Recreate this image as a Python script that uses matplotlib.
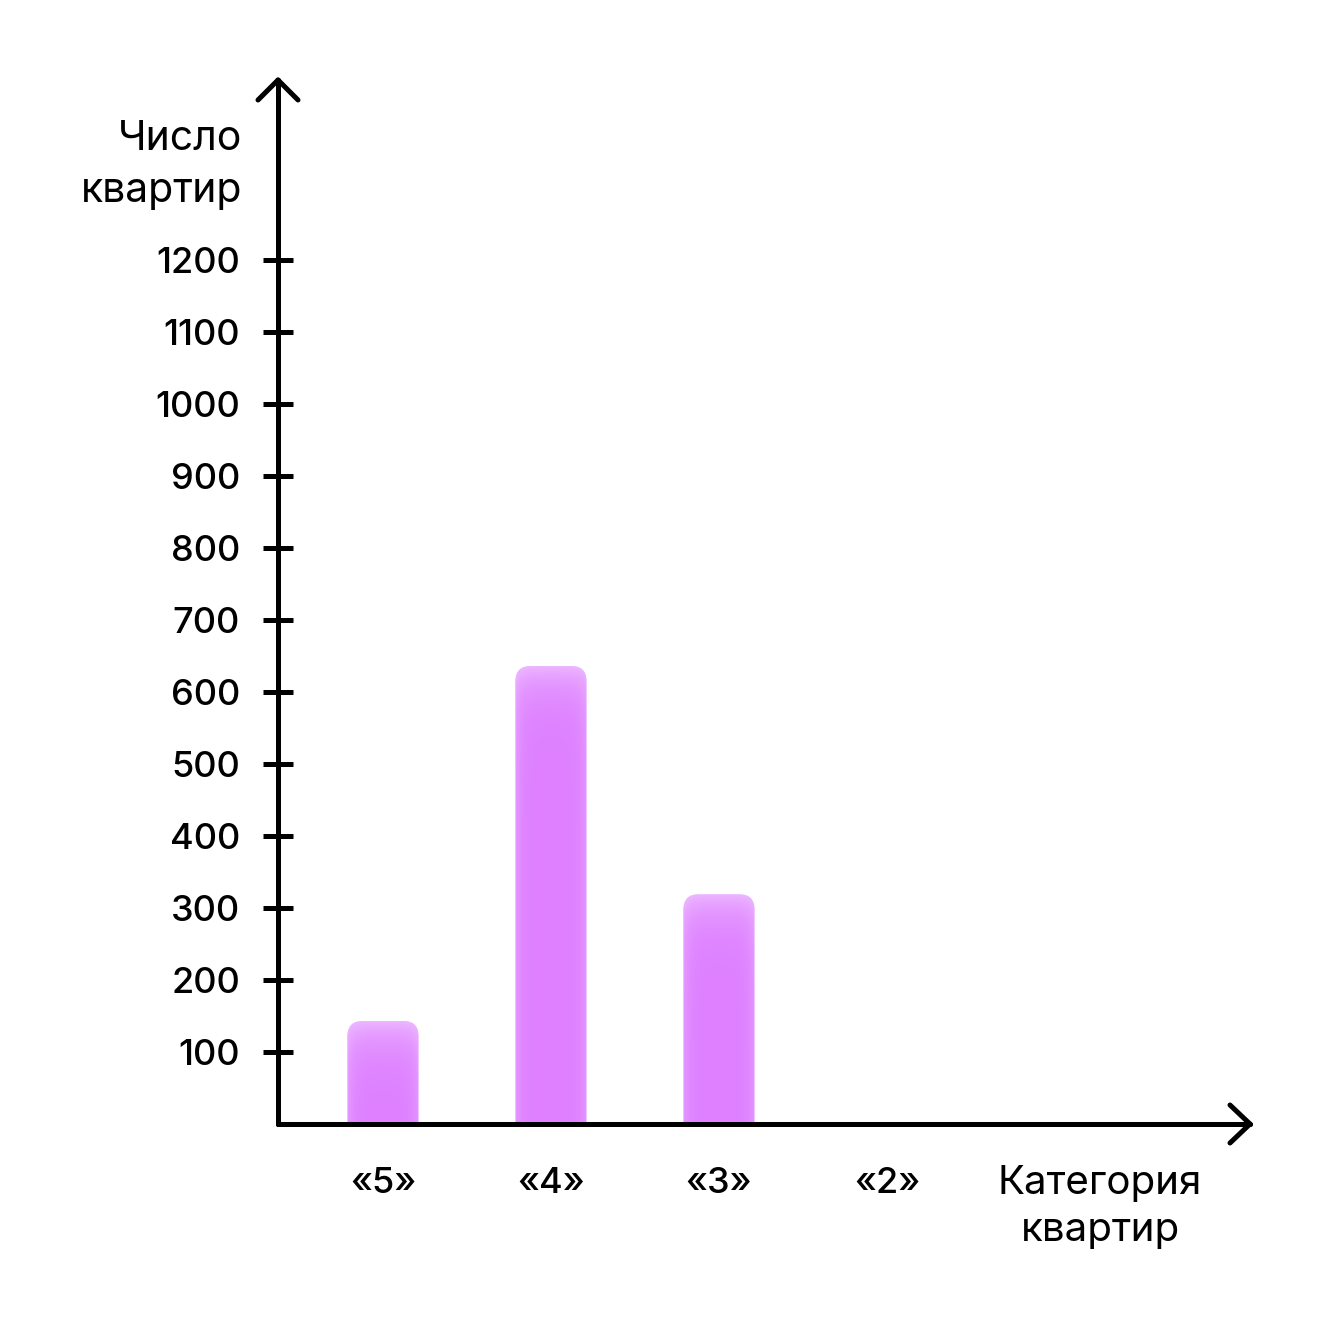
import matplotlib
matplotlib.use('Agg')
import matplotlib.pyplot as plt
import numpy as np
from matplotlib.patches import FancyBboxPatch
from matplotlib.lines import Line2D

categories = ['«5»', '«4»', '«3»', '«2»']
values = [143, 636, 319, 0]
yticks = [100, 200, 300, 400, 500, 600, 700, 800, 900, 1000, 1100, 1200]
ylabel = 'Число\nквартир'
xlabel = 'Категория\nквартир'

FONT = ['Inter', 'DejaVu Sans']
plt.rcParams['font.family'] = FONT

W = H = 1320
fig = plt.figure(figsize=(13.2, 13.2), dpi=100)
fig.patch.set_facecolor('white')

# layout (pixels, top origin)
ax_left, ax_right = 278, 1250
ax_top, ax_bottom = 80, 1124
xpx = 168.0          # pixels per category
x0px = 383.0         # first category centre
ypx = 0.72           # pixels per unit

ax = fig.add_axes([ax_left / W, 1 - ax_bottom / H,
                   (ax_right - ax_left) / W, (ax_bottom - ax_top) / H])
xmin = (ax_left - x0px) / xpx
xmax = (ax_right - x0px) / xpx
ymax = (ax_bottom - ax_top) / ypx
ax.set_xlim(xmin, xmax)
ax.set_ylim(0, ymax)
ax.set_facecolor('none')

for s in ['top', 'right']:
    ax.spines[s].set_visible(False)
for s in ['left', 'bottom']:
    ax.spines[s].set_linewidth(3.6)
    ax.spines[s].set_capstyle('round')

# bars
xs = np.arange(len(categories))
bw = 71 / xpx
base = '#DE80FF'
radius_px = 15
aspect = (1 / ypx) / (1 / xpx)
bars = ax.bar(xs, values, width=bw, color='none')
for rect, v in zip(bars, values):
    if v <= 0:
        continue
    x = rect.get_x()
    ext = radius_px / ypx
    p = FancyBboxPatch((x, -ext), bw, v + ext,
                       boxstyle=f"round,pad=0,rounding_size={radius_px / xpx}",
                       mutation_aspect=aspect, facecolor=base, edgecolor='none',
                       zorder=2)
    ax.add_patch(p)
    # soft highlight gradient
    hpx = int(v * ypx) + radius_px
    wpx = 71
    yy = np.arange(hpx)[:, None]          # 0 at top
    xx = np.arange(wpx)[None, :]
    a_top = 0.42 * np.exp(-yy / 22.0)
    dedge = np.minimum(xx, wpx - 1 - xx)
    a_side = 0.18 * np.exp(-dedge / 6.0)
    alpha = np.clip(a_top + a_side * (1 - a_top), 0, 1)
    img = np.ones((hpx, wpx, 4))
    img[..., 3] = alpha
    im = ax.imshow(img, extent=(x, x + bw, -ext, v), aspect='auto',
                   zorder=3, interpolation='bilinear')
    im.set_clip_path(p)

ax.set_xlim(xmin, xmax)
ax.set_ylim(0, ymax)

# ticks
ax.set_yticks(yticks)
ax.set_yticklabels([str(t) for t in yticks])
ax.tick_params(axis='y', direction='inout', length=21, width=3.6, pad=17,
               labelsize=26)
for lab in ax.get_yticklabels():
    lab.set_fontweight('medium')
ax.set_xticks(xs)
ax.set_xticklabels(categories)
ax.tick_params(axis='x', length=0, pad=31, labelsize=26)
for lab in ax.get_xticklabels():
    lab.set_fontweight('medium')

# arrowheads (figure pixel coords)
def fp(x, y):
    return x / W, 1 - y / H

def seg(p1, p2):
    (xa, ya), (xb, yb) = fp(*p1), fp(*p2)
    fig.add_artist(Line2D([xa, xb], [ya, yb], transform=fig.transFigure,
                          color='black', lw=3.6, solid_capstyle='round'))

seg((ax_left, ax_bottom), (ax_left, ax_top))
seg((ax_left, ax_top), (ax_left - 20, ax_top + 20))
seg((ax_left, ax_top), (ax_left + 20, ax_top + 20))
seg((ax_left, ax_bottom), (ax_right, ax_bottom))
seg((ax_right, ax_bottom), (ax_right - 20, ax_bottom - 19))
seg((ax_right, ax_bottom), (ax_right - 20, ax_bottom + 19))

# axis titles
tx, ty = fp(242, 165)
fig.text(tx, ty, ylabel, ha='right', va='center', fontsize=29.5,
         linespacing=1.5)
tx, ty = fp(1100, 1207)
fig.text(tx, ty, xlabel, ha='center', va='center', fontsize=29,
         linespacing=1.32)

fig.savefig('out.png', dpi=100, facecolor='white')
